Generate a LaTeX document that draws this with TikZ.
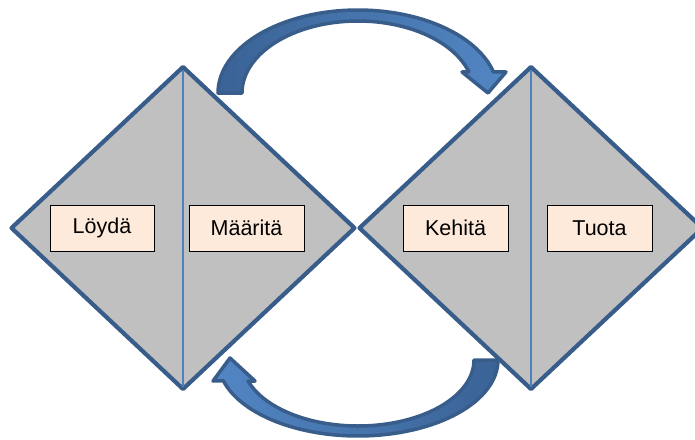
\documentclass[tikz,border=0pt]{standalone}
\usepackage{fontspec}
\setmainfont{Liberation Sans}
\usetikzlibrary{shapes.geometric}
\definecolor{dborder}{HTML}{385D8A}
\definecolor{dfill}{HTML}{C0C0C0}
\definecolor{midline}{HTML}{4F81BD}
\definecolor{boxfill}{HTML}{FDEADA}
\definecolor{arrdark}{HTML}{3A6396}
\definecolor{arrlight}{HTML}{5286C4}
\begin{document}
\begin{tikzpicture}[x=1pt,y=-1pt,
  diam/.style={diamond, draw=dborder, fill=dfill, line width=4.2pt, line join=round,
    minimum width=343pt, minimum height=322pt, inner sep=0pt, outer sep=0pt},
  midl/.style={draw=midline, line width=2pt, shorten <=2.5pt, shorten >=2.5pt},
  stagebox/.style={draw=black, fill=boxfill, line width=1pt, inner sep=0pt,
    minimum height=46pt, font=\fontsize{21.5}{25}\selectfont},
  blockarrow/.style={draw=dborder, line width=3.5pt, line join=round}]
\useasboundingbox (0,0) rectangle (695,439);
\begin{scope}
\clip (0,0) rectangle (695,439);
\node[diam] (d1) at (183,228) {};
\node[diam] (d2) at (531,228) {};
\draw[midl] (d1.north) -- (d1.south);
\draw[midl] (d2.north) -- (d2.south);
\node[stagebox, minimum width=104pt] (loyda) at (102,228) {Löydä};
\node[stagebox, minimum width=115pt] (maarita) at (246.5,228) {Määritä};
\node[stagebox, minimum width=105pt] (kehita) at (455.5,228) {Kehitä};
\node[stagebox, minimum width=105pt] (tuota) at (599.5,228) {Tuota};
% top curved arrow
\shadedraw[blockarrow, left color=arrdark, right color=arrlight]
  plot[domain=180:345.3, samples=60] ({358+140*cos(\x)},{93+83*sin(\x)})
  -- (506,72) -- (488,93) -- (462,72)
  -- plot[domain=343:180, samples=60] ({358+116*cos(\x)},{93+72*sin(\x)}) -- cycle;
% bottom curved arrow
\shadedraw[blockarrow, left color=arrlight, right color=arrdark]
  plot[domain=0:164.2, samples=60] ({358+140*cos(\x)},{360+76*sin(\x)})
  -- (213,381) -- (230,358) -- (255,381)
  -- plot[domain=161.4:0, samples=60] ({358+116*cos(\x)},{360+66*sin(\x)}) -- cycle;
\end{scope}
\end{tikzpicture}
\end{document}
